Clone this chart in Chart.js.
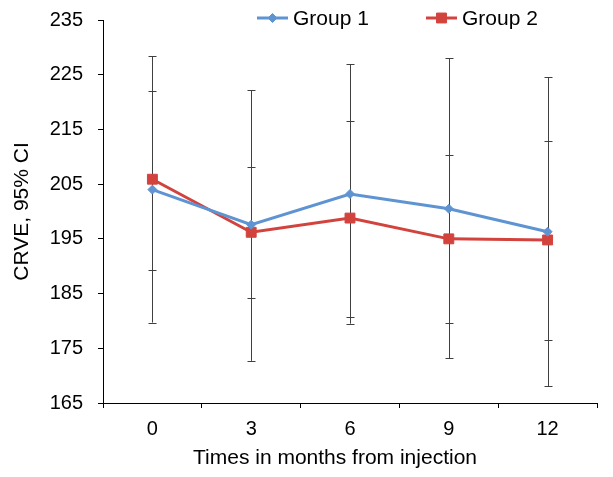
<!DOCTYPE html>
<html>
<head>
<meta charset="utf-8">
<script src="https://cdn.jsdelivr.net/npm/chart.js@4"></script>
<style>
  html, body { margin: 0; padding: 0; background: #ffffff; }
  #wrap { width: 613px; height: 477px; }
</style>
</head>
<body>
<div id="wrap"><canvas id="crveChart" width="613" height="477"></canvas></div>
<script>
// Chart data
const months = ['0', '3', '6', '9', '12'];

const group1Mean  = [204.0, 197.6, 203.2, 200.5, 196.3];
const group1Upper = [228.4, 222.2, 226.9, 228.0, 224.5];
const group1Lower = [179.7, 172.7, 179.5, 173.2, 168.1];

const group2Mean  = [205.9, 196.2, 198.8, 195.0, 194.8];
const group2Upper = [222.0, 208.1, 216.5, 210.3, 212.9];
const group2Lower = [189.3, 184.1, 180.8, 179.7, 176.6];

const yMin = 165;
const yMax = 235;
const yStep = 10;

const blue = '#5f94d3';
const red = '#d2433e';
const fontFamily = '"Liberation Sans", Arial, sans-serif';

/**
 * Draw 95% CI whiskers behind the lines
 */
const errorBars = {
    id: 'errorBars',
    beforeDatasetsDraw(chart) {
        const { ctx } = chart;
        const yScale = chart.scales.y;
        const ranges = [
            [group1Lower, group1Upper],
            [group2Lower, group2Upper]
        ];
        ctx.save();
        ctx.strokeStyle = '#404040';
        ctx.lineWidth = 1;
        ranges.forEach((range, di) => {
            const meta = chart.getDatasetMeta(di);
            meta.data.forEach((pt, i) => {
                const x = Math.round(pt.x) + 0.5;
                const yLo = yScale.getPixelForValue(range[0][i]);
                const yHi = yScale.getPixelForValue(range[1][i]);
                ctx.beginPath();
                ctx.moveTo(x, yLo);
                ctx.lineTo(x, yHi);
                ctx.moveTo(x - 4, Math.round(yLo) + 0.5);
                ctx.lineTo(x + 4, Math.round(yLo) + 0.5);
                ctx.moveTo(x - 4, Math.round(yHi) + 0.5);
                ctx.lineTo(x + 4, Math.round(yHi) + 0.5);
                ctx.stroke();
            });
        });
        ctx.restore();
    }
};

/**
 * Excel style legend and x axis title (title sits a bit left of centre)
 */
const lineLegend = {
    id: 'lineLegend',
    afterDraw(chart) {
        const { ctx, chartArea } = chart;
        const y = 18;
        const items = [
            { x: 257, label: 'Group 1', color: blue, style: 'rectRot', radius: 4.5 },
            { x: 426, label: 'Group 2', color: red, style: 'rect', radius: 7 }
        ];
        ctx.save();
        items.forEach(item => {
            ctx.strokeStyle = item.color;
            ctx.lineWidth = 3;
            ctx.beginPath();
            ctx.moveTo(item.x, y);
            ctx.lineTo(item.x + 31, y);
            ctx.stroke();
            ctx.fillStyle = item.color;
            ctx.lineWidth = 1;
            Chart.helpers.drawPoint(ctx, {
                pointStyle: item.style,
                radius: item.radius,
                rotation: 0,
                borderWidth: 1
            }, item.x + 15.5, y);
            ctx.fillStyle = '#000000';
            ctx.font = '21px ' + fontFamily;
            ctx.textBaseline = 'middle';
            ctx.textAlign = 'left';
            ctx.fillText(item.label, item.x + 36, y + 1);
        });

        // x axis title
        ctx.fillStyle = '#000000';
        ctx.font = '21px ' + fontFamily;
        ctx.textAlign = 'center';
        ctx.textBaseline = 'middle';
        ctx.fillText('Times in months from injection', (chartArea.left + chartArea.right) / 2 - 15, 458);
        ctx.restore();
    }
};

const ctx = document.getElementById('crveChart');

window.crveChart = new Chart(ctx, {
    type: 'line',
    data: {
        labels: months,
        datasets: [{
            label: 'Group 1',
            data: group1Mean,
            borderColor: blue,
            backgroundColor: blue,
            borderWidth: 3,
            pointStyle: 'rectRot',
            pointRadius: 4.5,
            pointBorderWidth: 1,
            tension: 0
        }, {
            label: 'Group 2',
            data: group2Mean,
            borderColor: red,
            backgroundColor: red,
            borderWidth: 3,
            pointStyle: 'rect',
            pointRadius: 7,
            pointBorderWidth: 1,
            tension: 0
        }]
    },
    options: {
        responsive: false,
        animation: false,
        devicePixelRatio: 1,
        layout: {
            padding: { top: 20, right: 16, left: 0, bottom: 0 }
        },
        scales: {
            x: {
                type: 'category',
                offset: true,
                afterFit: (scale) => { scale.height = 74; },
                border: { display: true, color: '#000000', width: 1 },
                grid: {
                    offset: true,
                    drawOnChartArea: false,
                    drawTicks: true,
                    tickLength: 5,
                    tickColor: '#000000'
                },
                ticks: {
                    color: '#000000',
                    padding: 9,
                    font: { family: fontFamily, size: 20 }
                }
            },
            y: {
                min: yMin,
                max: yMax,
                afterFit: (scale) => {
                    scale.width = 103;
                    scale.paddingTop = 12;
                    scale.paddingBottom = 12;
                },
                border: { display: true, color: '#000000', width: 1 },
                grid: {
                    drawOnChartArea: false,
                    drawTicks: true,
                    tickLength: 5,
                    tickColor: '#000000'
                },
                ticks: {
                    stepSize: yStep,
                    color: '#000000',
                    padding: 15,
                    font: { family: fontFamily, size: 20 }
                },
                title: {
                    display: true,
                    text: 'CRVE, 95% CI',
                    color: '#000000',
                    padding: { top: 10, bottom: 0 },
                    font: { family: fontFamily, size: 21 }
                }
            }
        },
        plugins: {
            legend: { display: false },
            tooltip: { enabled: false }
        }
    },
    plugins: [errorBars, lineLegend]
});
</script>
</body>
</html>
